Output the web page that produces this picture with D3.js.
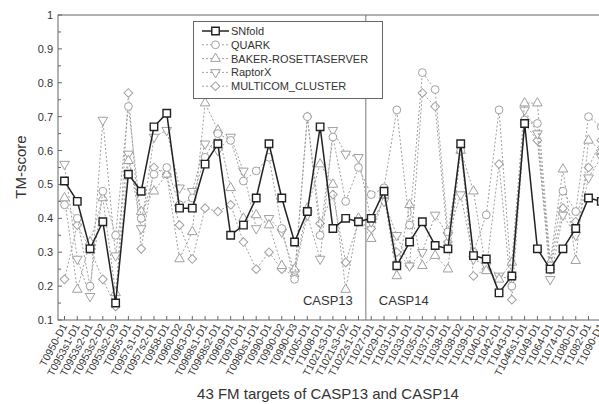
<!DOCTYPE html>
<html><head><meta charset="utf-8">
<script src="https://cdn.jsdelivr.net/npm/d3@7"></script>
<style>body{margin:0;background:#fff}svg{display:block}</style>
</head><body><svg id="c" width="599" height="404"></svg>
<script>
const categories = ["T0950-D1","T0953s1-D1","T0953s2-D1","T0953s2-D2","T0953s2-D3","T0955-D1","T0957s1-D1","T0957s2-D1","T0958-D1","T0960-D2","T0963-D2","T0968s1-D1","T0968s2-D1","T0969-D1","T0970-D1","T0980s1-D1","T0990-D1","T0990-D2","T0990-D3","T1005-D1","T1008-D1","T1021s3-D1","T1021s3-D2","T1022s1-D1","T1027-D1","T1029-D1","T1031-D1","T1033-D1","T1035-D1","T1037-D1","T1038-D1","T1038-D2","T1039-D1","T1040-D1","T1042-D1","T1043-D1","T1046s1-D1","T1049-D1","T1064-D1","T1074-D1","T1080-D1","T1082-D1","T1090-D1"];
const casp13Count = 24;
const snfold   = [0.51,0.45,0.31,0.39,0.15,0.53,0.48,0.67,0.71,0.43,0.43,0.56,0.62,0.35,0.38,0.46,0.62,0.46,0.33,0.42,0.67,0.37,0.40,0.39,0.40,0.48,0.26,0.33,0.39,0.32,0.31,0.62,0.29,0.28,0.18,0.23,0.68,0.31,0.25,0.31,0.37,0.46,0.45];
const quark    = [0.44,0.40,0.20,0.48,0.35,0.73,0.40,0.53,0.55,0.44,0.46,0.58,0.65,0.63,0.51,0.54,0.58,0.37,0.22,0.70,0.35,0.64,0.45,0.55,0.47,0.49,0.72,0.38,0.83,0.78,0.36,0.60,0.30,0.41,0.72,0.20,0.69,0.68,0.26,0.48,0.42,0.70,0.67];
const baker    = [0.46,0.19,0.33,0.46,0.18,0.57,0.42,0.48,0.53,0.28,0.36,0.74,0.66,0.49,0.40,0.41,0.38,0.26,0.25,0.43,0.56,0.50,0.19,0.40,0.34,0.47,0.23,0.44,0.26,0.29,0.25,0.60,0.48,0.245,0.22,0.27,0.74,0.74,0.27,0.545,0.275,0.63,0.60];
const raptorx  = [0.56,0.28,0.17,0.69,0.29,0.59,0.37,0.64,0.66,0.49,0.48,0.62,0.60,0.64,0.54,0.37,0.40,0.36,0.24,0.41,0.28,0.66,0.59,0.58,0.39,0.45,0.35,0.26,0.30,0.41,0.35,0.47,0.28,0.26,0.23,0.22,0.72,0.65,0.22,0.41,0.35,0.52,0.58];
const multicom = [0.22,0.38,0.31,0.22,0.14,0.77,0.31,0.55,0.53,0.38,0.28,0.43,0.42,0.44,0.33,0.25,0.30,0.25,0.23,0.70,0.385,0.47,0.27,0.39,0.37,0.46,0.30,0.26,0.77,0.73,0.33,0.61,0.23,0.25,0.56,0.16,0.68,0.63,0.25,0.43,0.39,0.55,0.63];
const seriesNames = ["SNfold","QUARK","BAKER-ROSETTASERVER","RaptorX","MULTICOM_CLUSTER"];
const yTicks = [0.1,0.2,0.3,0.4,0.5,0.6,0.7,0.8,0.9,1];

const svg = d3.select("#c");
const FONT = "'Liberation Sans', Arial, sans-serif";
const L = 58, T = 15, B = 320, R = 607;
const x = d3.scalePoint().domain(categories).range([64.5, 601.3]);
const y = d3.scaleLinear().domain([0.1, 1]).range([B, T]);

const grey = "#a0a0a0";
const styles = [
  {data: snfold, sym: "square", color: "#222", dash: null, lw: 1.5},
  {data: quark, sym: "circle", color: grey, dash: "2,2", lw: 1},
  {data: baker, sym: "tri", color: grey, dash: "2,2", lw: 1},
  {data: raptorx, sym: "tridown", color: grey, dash: "2,2", lw: 1},
  {data: multicom, sym: "diamond", color: grey, dash: "2,2", lw: 1}
];
function symPath(s){
  if(s==="square") return d3.symbol(d3.symbolSquare, 56)();
  if(s==="circle") return d3.symbol(d3.symbolCircle, 48)();
  if(s==="tri"||s==="tridown") return d3.symbol(d3.symbolTriangle, 40)();
  if(s==="diamond") return d3.symbol(d3.symbolSquare, 38)();
}
function symRot(s){ return s==="tridown"?180:(s==="diamond"?45:0); }

// frame
const g = svg.append("g");
g.append("rect").attr("x",L).attr("y",T).attr("width",R-L).attr("height",B-T)
  .attr("fill","none").attr("stroke","#666").attr("stroke-width",1);

// y ticks
const yMinor = d3.range(0.15, 1.0, 0.1);
g.selectAll(".yt").data(yTicks).enter().append("line")
  .attr("x1",L).attr("x2",L+4).attr("y1",d=>y(d)).attr("y2",d=>y(d)).attr("stroke","#666");
g.selectAll(".ym").data(yMinor).enter().append("line")
  .attr("x1",L).attr("x2",L+3).attr("y1",d=>y(d)).attr("y2",d=>y(d)).attr("stroke","#666");
g.selectAll(".yl").data(yTicks).enter().append("text")
  .attr("x",L-5).attr("y",d=>y(d)+4).attr("text-anchor","end")
  .attr("font-family",FONT).attr("font-size",11).attr("fill","#333")
  .text(d=>d===1?"1":d.toFixed(1));

// x ticks
g.selectAll(".xt").data(categories).enter().append("line")
  .attr("x1",d=>x(d)).attr("x2",d=>x(d)).attr("y1",B).attr("y2",B-4).attr("stroke","#666");
g.selectAll(".xl").data(categories).enter().append("text")
  .attr("transform",d=>`translate(${x(d)+3},${B+6}) rotate(-62)`)
  .attr("text-anchor","end").attr("font-family",FONT).attr("font-size",10.5).attr("fill","#333")
  .text(d=>d);

// divider
const divX = (x(categories[casp13Count-1]) + x(categories[casp13Count]))/2 + 1;
g.append("line").attr("x1",divX).attr("x2",divX).attr("y1",T).attr("y2",B).attr("stroke","#777");
g.append("text").attr("x",divX-13).attr("y",305).attr("text-anchor","end")
  .attr("font-family",FONT).attr("font-size",13).attr("fill","#333").text("CASP13");
g.append("text").attr("x",divX+13).attr("y",305).attr("text-anchor","start")
  .attr("font-family",FONT).attr("font-size",13).attr("fill","#333").text("CASP14");

// series (grey first, SNfold on top)
const line = d3.line().x((d,i)=>x(categories[i])).y(d=>y(d));
[4,3,2,1,0].forEach(k=>{
  const s = styles[k];
  const sg = g.append("g");
  sg.append("path").attr("d",line(s.data)).attr("fill","none")
    .attr("stroke",s.color).attr("stroke-width",s.lw)
    .attr("stroke-dasharray",s.dash);
  sg.selectAll("path.m").data(s.data).enter().append("path").attr("class","m")
    .attr("d",symPath(s.sym))
    .attr("transform",(d,i)=>`translate(${x(categories[i])},${y(d)}) rotate(${symRot(s.sym)})`)
    .attr("fill","#fff").attr("stroke",s.color).attr("stroke-width",k===0?1.4:1);
});

// legend
const lg = svg.append("g");
lg.append("rect").attr("x",193.5).attr("y",21.5).attr("width",189).attr("height",77)
  .attr("fill","#fff").attr("stroke","#666");
seriesNames.forEach((n,k)=>{
  const s = styles[k];
  const yy = 31 + k*13.8;
  lg.append("line").attr("x1",202).attr("x2",229).attr("y1",yy).attr("y2",yy)
    .attr("stroke",s.color).attr("stroke-width",s.lw).attr("stroke-dasharray",s.dash);
  lg.append("path").attr("d",symPath(s.sym))
    .attr("transform",`translate(215.5,${yy}) rotate(${symRot(s.sym)})`)
    .attr("fill","#fff").attr("stroke",s.color).attr("stroke-width",k===0?1.4:1);
  lg.append("text").attr("x",231).attr("y",yy+4).attr("font-family",FONT)
    .attr("font-size",11).attr("fill","#333").text(n);
});

// axis titles
svg.append("text").attr("transform",`translate(26,167) rotate(-90)`).attr("text-anchor","middle")
  .attr("font-family",FONT).attr("font-size",15).attr("fill","#333").text("TM-score");
svg.append("text").attr("x",328).attr("y",399).attr("text-anchor","middle")
  .attr("font-family",FONT).attr("font-size",15).attr("fill","#333").text("43 FM targets of CASP13 and CASP14");
</script></body></html>
